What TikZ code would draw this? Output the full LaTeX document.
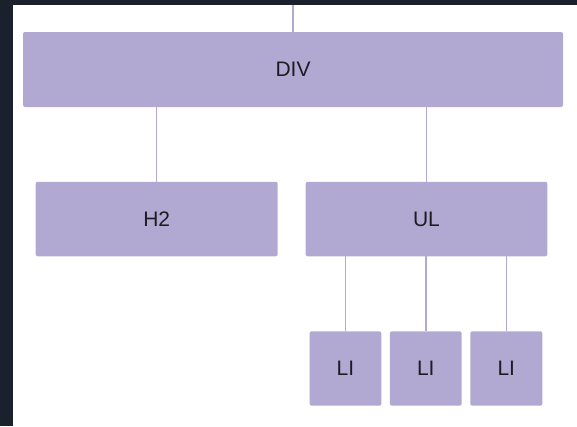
\documentclass[tikz,border=0pt]{standalone}
\usepackage{fontspec}
\setmainfont{Liberation Sans}
\definecolor{lav}{HTML}{B2A9D3}
\definecolor{frame}{HTML}{1A202C}
\definecolor{ink}{HTML}{1C1C22}
\begin{document}
\begin{tikzpicture}[x=1pt,y=-1pt,
  box/.style={fill=lav, rounded corners=2pt, inner sep=0pt, font=\fontsize{21}{24}\selectfont, text=ink},
  link/.style={draw=lav, line width=1.4pt}]
\useasboundingbox (0,0) rectangle (577,426);
\fill[frame] (0,0) rectangle (577,426);
\fill[white] (13,5) rectangle (577,426);
\node[box, minimum width=540pt, minimum height=75pt] (div) at (293,69.5) {DIV};
\node[box, minimum width=242pt, minimum height=74.5pt] (h2) at (156.7,219) {H2};
\node[box, minimum width=241.6pt, minimum height=74.5pt] (ul) at (426.5,219) {UL};
\node[box, minimum width=71.6pt, minimum height=74.4pt] (li1) at (345.5,368.5) {LI};
\node[box, minimum width=71.7pt, minimum height=74.4pt] (li2) at (425.8,368.5) {LI};
\node[box, minimum width=72pt, minimum height=74.4pt] (li3) at (506.3,368.5) {LI};
\coordinate (top) at (293,5);
\draw[link] (top) -- (div.north);
\draw[link] (div.south -| h2.north) -- (h2.north);
\draw[link] (div.south -| ul.north) -- (ul.north);
\draw[link] (ul.south -| li1.north) -- (li1.north);
\draw[link] (ul.south -| li2.north) -- (li2.north);
\draw[link] (ul.south -| li3.north) -- (li3.north);
\end{tikzpicture}
\end{document}
